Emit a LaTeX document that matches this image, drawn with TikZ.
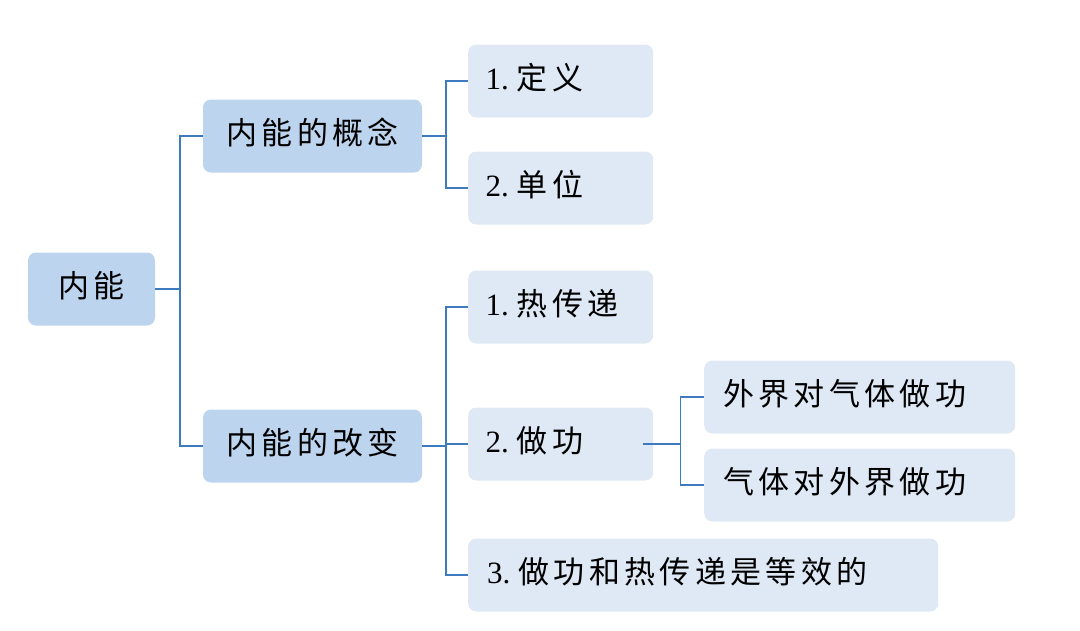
\documentclass[tikz,border=0pt]{standalone}
\usepackage{fontspec}
\setmainfont{Liberation Serif}
\newfontfamily\cjk[LetterSpace=14]{Noto Sans CJK SC}
\begin{document}
\begin{tikzpicture}[x=1pt,y=-1pt,
  box/.style={rounded corners=8pt,inner sep=0pt,text height=23pt,text depth=6pt,font=\fontsize{31}{36}\selectfont,anchor=west},
  dk/.style={box,fill=dk},
  lt/.style={box,fill=lt},
  ln/.style={draw=ln,line width=1.5pt}]
\definecolor{dk}{HTML}{BDD4EE}
\definecolor{lt}{HTML}{DFE9F6}
\definecolor{ln}{HTML}{3D7BBE}
\useasboundingbox (0,0) rectangle (1080,630);
\node[dk,minimum width=127pt,minimum height=73pt,align=center,anchor=center] (root) at (91.5,289) {\cjk 内能};
\node[dk,minimum width=219pt,minimum height=73pt,anchor=center] (a) at (312.5,136) {\cjk 内能的概念};
\node[dk,minimum width=219pt,minimum height=73pt,anchor=center] (b) at (312.5,446) {\cjk 内能的改变};
\foreach \n/\y/\t in {a1/81/{1.\hspace{8pt}{\cjk 定义}},a2/188/{2.\hspace{8pt}{\cjk 单位}},b1/307/{1.\hspace{8pt}{\cjk 热传递}},b2/444/{2.\hspace{8pt}{\cjk 做功}}}
  \node[lt,minimum width=185pt,minimum height=73pt,text width=178pt,align=left] (\n) at (468,\y) {\hspace*{14pt}\t};
\node[lt,minimum width=470pt,minimum height=73pt,text width=460pt,align=left] (b3) at (468,575) {\hspace*{14pt}3.\hspace{8pt}{\cjk 做功和热传递是等效的}};
\node[lt,minimum width=311pt,minimum height=73pt,text width=305pt,align=left] (c1) at (704,397) {\hspace*{16pt}{\cjk 外界对气体做功}};
\node[lt,minimum width=311pt,minimum height=73pt,text width=305pt,align=left] (c2) at (704,485) {\hspace*{16pt}{\cjk 气体对外界做功}};
\draw[ln] (root.east) -- ++(25,0) coordinate (j0);
\draw[ln] (a.west) -| (j0) |- (b.west);
\draw[ln] (a.east) -- ++(24,0) coordinate (j1);
\draw[ln] (a1.west) -| (j1) |- (a2.west);
\draw[ln] (b.east) -- ++(24,0) coordinate (j2);
\draw[ln] (b1.west) -| (j2) |- (b3.west);
\draw[ln] (j2) |- (b2.west);
\draw[ln] (b2.east) ++(-10,0) -- ++(37,0) coordinate (j3);
\draw[ln] (c1.west) -| (j3) |- (c2.west);
\end{tikzpicture}
\end{document}
